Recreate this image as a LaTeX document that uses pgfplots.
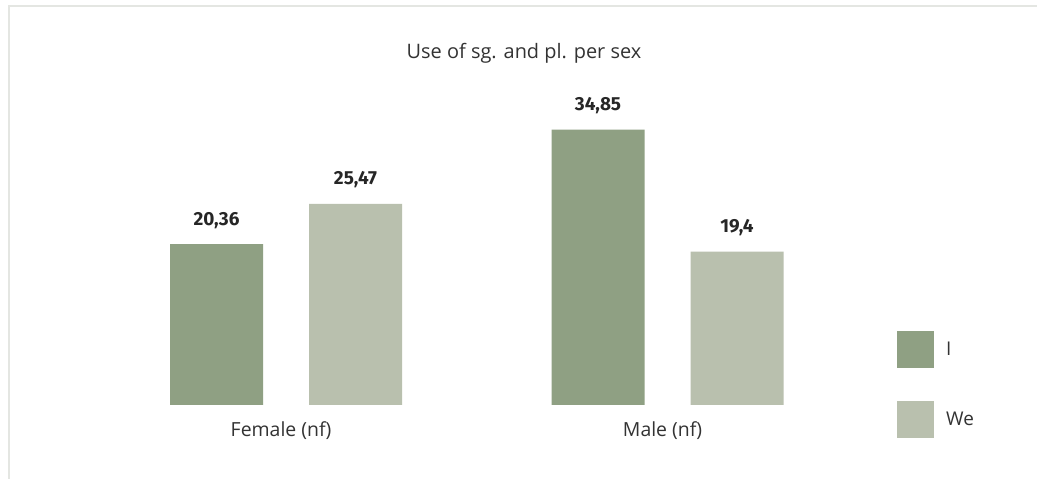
\documentclass[border=0pt]{standalone}
\usepackage{pgfplots}
\pgfplotsset{compat=1.18}
\usepackage{fontspec}
\setmainfont{Open Sans}
\newfontfamily\numfont{Fira Sans}
\definecolor{dk}{HTML}{8FA083}
\definecolor{lt}{HTML}{B9C0AE}
\definecolor{txt}{HTML}{333333}
\definecolor{frame}{HTML}{E4E6E2}
\begin{document}
\begin{tikzpicture}[x=1bp,y=1bp]
\path[use as bounding box] (0,0) rectangle (1037,479);
\fill[white] (0,0) rectangle (1037,479);
\draw[frame, line width=1.5bp] (9,0) -- (9,473) -- (1037,473);
\begin{axis}[at={(0,0)}, anchor=south west, scale only axis,
  width=1037bp, height=479bp,
  xmin=-0.7497, xmax=1.9685, ymin=-9.367, ymax=51.27,
  hide axis, clip=false,
  ybar=46bp, bar width=93bp,
  nodes near coords,
  every node near coord/.append style={font=\numfont\bfseries\fontsize{19}{22}\selectfont, text=black!85, anchor=south, yshift=12bp},
  /pgf/number format/assume math mode=true,
  /pgf/number format/use comma, /pgf/number format/precision=2, /pgf/number format/1000 sep={},
  legend image code/.code={\fill[#1] (0bp,-18.5bp) rectangle (37bp,18.5bp);},
  legend style={at={(0.865,0.31)}, anchor=north west, draw=none, fill=none, inner sep=0pt,
    font=\fontsize{19}{22}\selectfont, text=txt, row sep=33bp,
    nodes={inner xsep=12bp}},
  legend cell align=left,
]
\addplot[fill=dk, draw=none] coordinates {(0,20.36) (1,34.85)};
\addplot[fill=lt, draw=none] coordinates {(0,25.47) (1,19.4)};
\legend{I, We}
\node[font=\fontsize{19.5}{22}\selectfont, text=txt] at (axis cs:-0.013,-3.3) {Female (nf)};
\node[font=\fontsize{19.5}{22}\selectfont, text=txt] at (axis cs:0.987,-3.3) {Male (nf)};
\end{axis}
\node[font=\fontsize{20}{23}\selectfont, text=txt] at (524,426) {Use of sg. and pl. per sex};
\end{tikzpicture}
\end{document}
